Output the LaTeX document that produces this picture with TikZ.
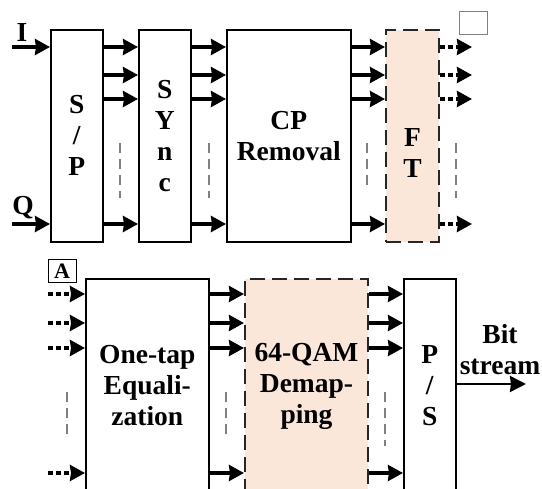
\documentclass[tikz,border=0pt]{standalone}
\usepackage{fontspec}
\setmainfont{Liberation Serif}
\usetikzlibrary{arrows.meta}
\definecolor{peach}{HTML}{FBE6DA}
\begin{document}
\begin{tikzpicture}[x=1pt,y=-1pt,
 blk/.style={draw=black, line width=1.6pt, fill=white, rectangle, anchor=north west, inner sep=0pt},
 dblk/.style={blk, fill=peach, draw=black!85, line width=2pt, dash pattern=on 15pt off 7pt},
 txt/.style={font=\fontsize{27.5}{31}\selectfont\bfseries, align=center, inner sep=0pt},
 arr/.style={line width=3.2pt, -{Stealth[length=15pt,width=16pt,inset=1pt]}},
 darr/.style={arr, dash pattern=on 5pt off 3pt},
 gdash/.style={draw=gray, line width=1.2pt, dash pattern=on 10pt off 6pt}]
\useasboundingbox (0,0) rectangle (542,489);
\clip (0,0) rectangle (542,489);
% top row
\node[blk, minimum width=52pt, minimum height=212pt] (sp) at (50,29) {};
\node[blk, minimum width=52pt, minimum height=212pt] (sync) at (138,29) {};
\node[blk, minimum width=124pt, minimum height=212pt] (cp) at (226,29) {};
\node[dblk, minimum width=53pt, minimum height=212pt] (ft) at (385,29) {};
\node[txt] (tsp) at (sp.center) {S\\/\\P};
\node[txt] (tsync) at (sync.center) {S\\Y\\n\\c};
\node[txt] (tcp) at (cp.center) {CP\\Removal};
\node[txt] (tft) at ([yshift=-17pt]ft.center) {F\\T};
\node[txt, anchor=base] (lI) at (22,42) {I};
\node[txt, anchor=base] (lQ) at (23,215) {Q};
\coordinate (iin) at (12,47);
\coordinate (qin) at (12,224);
\draw[arr] (iin) -- (sp.west |- iin);
\draw[arr] (qin) -- (sp.west |- qin);
\foreach \y in {47,75,99,224} {
  \draw[arr] (sp.east |- 0,\y) -- (sync.west |- 0,\y);
  \draw[arr] (sync.east |- 0,\y) -- (cp.west |- 0,\y);
  \draw[arr] (cp.east |- 0,\y) -- (ft.west |- 0,\y);
  \coordinate (o\y) at (472,\y);
  \draw[darr] (ft.east |- 0,\y) -- (o\y);
}
\draw[gdash] (120,143) -- (120,198);
\draw[gdash] (209,143) -- (209,198);
\draw[gdash] (367,143) -- (367,191);
\draw[gdash] (456,143) -- (456,198);
\node[draw=gray, line width=1pt, minimum width=28pt, minimum height=23pt, inner sep=0pt] (emp) at (473,23.5) {};
% bottom row
\node[draw=black, line width=1pt, minimum width=28pt, minimum height=23pt, inner sep=0pt, font=\fontsize{22}{22}\selectfont\bfseries] (lA) at (62,271.5) {A};
\node[blk, minimum width=123pt, minimum height=214pt] (eq) at (85,278) {};
\node[dblk, minimum width=123pt, minimum height=214pt] (qam) at (244,278) {};
\node[blk, minimum width=52pt, minimum height=214pt] (ps) at (403,278) {};
\node[txt] (teq) at (eq.center) {One-tap\\Equali-\\zation};
\node[txt] (tqam) at (qam.center) {64-QAM\\Demap-\\ping};
\node[txt] (tps) at (ps.center) {P\\/\\S};
\foreach \y in {294,323,348,473} {
  \coordinate (i\y) at (48,\y);
  \draw[darr] (i\y) -- (eq.west |- i\y);
  \draw[arr] (eq.east |- 0,\y) -- (qam.west |- 0,\y);
  \draw[arr] (qam.east |- 0,\y) -- (ps.west |- 0,\y);
}
\coordinate (bout) at (526,384);
\draw[line width=2.4pt, -{Stealth[length=16pt,width=16pt,inset=1pt]}] (ps.east |- bout) -- (bout);
\node[txt] (lbit) at (500,350) {Bit\\stream};
\draw[gdash] (67,392) -- (67,438);
\draw[gdash] (226,392) -- (226,438);
\draw[gdash] (385,392) -- (385,446);
\end{tikzpicture}
\end{document}
